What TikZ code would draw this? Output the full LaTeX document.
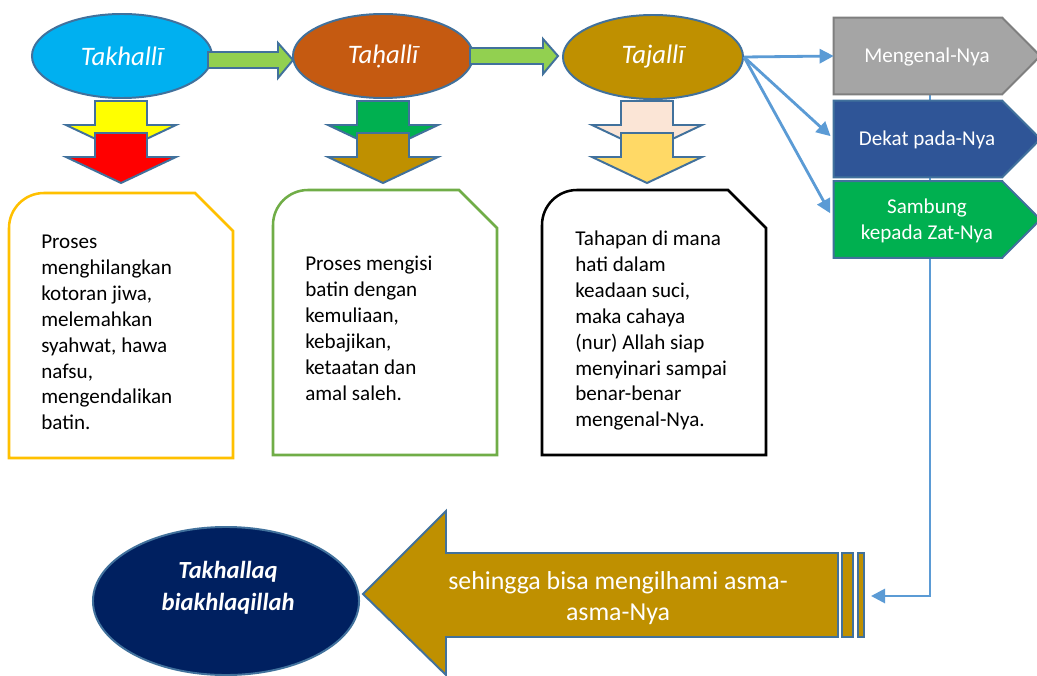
\documentclass[tikz,border=0pt]{standalone}
\usepackage{fontspec}
\setmainfont{Carlito}
\usepackage{tikz}
\usetikzlibrary{arrows.meta,shapes,positioning,calc}

\definecolor{edge}{HTML}{41719C}
\definecolor{cyanx}{HTML}{00B0F0}
\definecolor{rust}{HTML}{C55A11}
\definecolor{gold}{HTML}{BF9000}
\definecolor{lime}{HTML}{92D050}
\definecolor{yl}{HTML}{FFFF00}
\definecolor{rd}{HTML}{FF0000}
\definecolor{gr}{HTML}{00B050}
\definecolor{peach}{HTML}{FBE5D6}
\definecolor{lgold}{HTML}{FFD966}
\definecolor{amber}{HTML}{FFC000}
\definecolor{leaf}{HTML}{70AD47}
\definecolor{grayx}{HTML}{A5A5A5}
\definecolor{grayedge}{HTML}{7F7F7F}
\definecolor{navyb}{HTML}{2F5597}
\definecolor{navy}{HTML}{002060}
\definecolor{link}{HTML}{5B9BD5}

\begin{document}
\begin{tikzpicture}[x=0.025cm,y=-0.025cm,
  stage/.style={draw=edge,line width=1.4pt,ellipse,minimum width=4.5cm,minimum height=2.1cm,text=white,font=\fontsize{19}{23}\selectfont\itshape},
  blk/.style={draw=edge,line width=1.4pt},
  note/.style={line width=1.8pt,fill=white},
  txt/.style={anchor=north west,inner sep=0pt,align=left,font=\fontsize{15}{18.43}\selectfont},
  tag/.style={minimum width=4.2cm,minimum height=1.9cm,inner sep=0pt},
  tagtxt/.style={text=white,align=center,font=\fontsize{15}{18.43}\selectfont},
  conn/.style={draw=link,line width=2pt,-{Triangle[length=10pt,width=10pt]}}]
\fill[white] (0,0) rectangle (1037,676);
\useasboundingbox (0,0) rectangle (1037,676);
% stages
\node[stage,fill=cyanx](tk) at(122,56){Takhallī};
\node[stage,fill=rust](th)  at(383,56){Taḥallī};
\node[stage,fill=gold](tj)  at(653,57){Tajallī};
\draw[blk,fill=lime](208,52)--(278,52)--(278,43)--(293,60)--(278,78)--(278,68)--(208,68)--cycle;
\draw[blk,fill=lime](470,48)--(543,48)--(543,39)--(558,56)--(543,74)--(543,64)--(470,64)--cycle;
% down arrows
\foreach \cx/\cy/\col in {121/101/yl,121/133/rd,383/101/gr,383/133/gold,647/101/peach,647/133/lgold}
  \draw[blk,fill=\col](\cx-26,\cy)--(\cx+26,\cy)--(\cx+26,\cy+24)--(\cx+55,\cy+24)--(\cx,\cy+50)--(\cx-55,\cy+24)--(\cx-26,\cy+24)--cycle;
% notes
\foreach \l/\t/\col in {9/193/amber,273/190/leaf,542/190/black}
  \draw[note,draw=\col](\l,\t+265)--(\l,\t+35) arc[start angle=180,end angle=270,radius=35]--(\l+186,\t)--(\l+224,\t+38)--(\l+224,\t+265)--cycle;
\node[txt](d1) at(41,230){\strut Proses\\menghilangkan\\kotoran jiwa,\\melemahkan\\syahwat, hawa\\nafsu,\\mengendalikan\\batin.};
\node[txt](d2) at(305,252){\strut Proses mengisi\\batin dengan\\kemuliaan,\\kebajikan,\\ketaatan dan\\amal saleh.};
\node[txt](d3) at(575,227){\strut Tahapan di mana\\hati dalam\\keadaan suci,\\maka cahaya\\(nur) Allah siap\\menyinari sampai\\benar-benar\\mengenal-Nya.};
% right column
\coordinate(drop) at(930,94);
\coordinate(tail) at(871,596);
\draw[conn](drop)|-(tail);
\node[tag](mg) at(918,56){};
\node[tag](dk) at(918,139){};
\node[tag](sb) at(918,219.5){};
\foreach \n/\col/\ed in {mg/grayx/grayedge,dk/navyb/edge,sb/gr/edge}
  \draw[line width=1.4pt,fill=\col,draw=\ed](\n.south west)--(\n.north west)--(\n.north east)--($(\n.east)+(38,0)$)--(\n.south east)--cycle;
\node[tagtxt](mgt) at(927,57){Mengenal-Nya};
\node[tagtxt](dkt) at(927,140){Dekat pada-Nya};
\node[tagtxt](sbt) at(927,221){Sambung\\kepada Zat-Nya};
\draw[conn](tj.east)--(mg.west);
\draw[conn,shorten >=3pt](tj.east)--(dk.west);
\draw[conn,shorten >=5pt](tj.east)--(sb.west);
% bottom
\draw[blk,fill=gold](838,553)--(446,553)--(446,511)--(363,594)--(446,675)--(446,637)--(838,637)--cycle;
\draw[blk,fill=gold](842,553) rectangle (853,637);
\draw[blk,fill=gold](858,553) rectangle (864,637);
\node[text=white,align=center,font=\fontsize{18.4}{22}\selectfont](sh) at(618,598){sehingga bisa mengilhami asma-\\asma-Nya};
\node[ellipse,draw=edge,line width=1.4pt,fill=navy,minimum width=6.65cm,minimum height=3.7cm](tb) at(226,601){};
\node[text=white,align=center,font=\fontsize{17.5}{22.7}\selectfont\bfseries\itshape](tbt) at(228,588){Takhallaq\\biakhlaqillah};
\end{tikzpicture}
\end{document}
